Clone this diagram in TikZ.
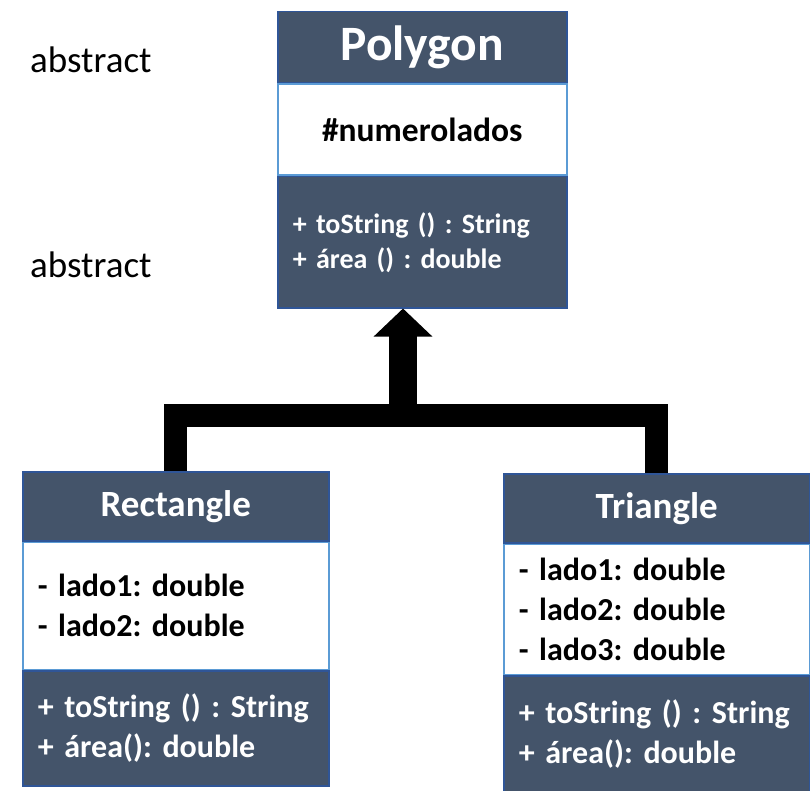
\documentclass[tikz,border=0pt]{standalone}
\usepackage{fontspec}
\setmainfont{Carlito}
\usepackage{tikz}
\usetikzlibrary{arrows.meta}
\frenchspacing
\definecolor{umldark}{HTML}{44546A}
\definecolor{umlborder}{HTML}{2F5597}
\definecolor{umllight}{HTML}{5B9BD5}
\tikzstyle{section} = [rectangle, inner ysep=0pt, inner xsep=15pt,
                       line width=1.5pt, anchor=north west]
\tikzstyle{classhead} = [section, draw=umlborder, fill=umldark,
                         text=white, font=\bfseries]
\tikzstyle{classattr} = [section, draw=umllight, fill=white,
                         text=black, font=\bfseries\fontsize{32}{40}\selectfont]
\tikzstyle{classops} = [section, draw=umlborder, fill=umldark, text=white,
                        font=\bfseries\fontsize{32}{40}\selectfont]
\tikzstyle{stereo} = [inner sep=0pt, anchor=west,
                      font=\fontsize{37}{44}\selectfont]
\tikzstyle{inherit} = [line width=23pt, line join=miter]

\begin{document}
\begin{tikzpicture}[x=1pt,y=-1pt]%
  \useasboundingbox (0,0) rectangle (810,791);
  % Polygon
  \node [classhead, minimum width=289pt, minimum height=71pt,
         font=\bfseries\fontsize{49.5}{56}\selectfont] (polyhead) at (277,11) {Polygon};
  \node [classattr, minimum width=289pt, minimum height=91pt,
         font=\bfseries\fontsize{33.5}{40}\selectfont] (polyattr) at (polyhead.south west) {\#numerolados};
  \node [classops, minimum width=289pt, minimum height=131pt, text width=259pt,
         align=left, font=\bfseries\fontsize{28}{35}\selectfont] (polyops) at (polyattr.south west)
        {+ toString () : String\\+ área () : double};
  \node [stereo] (abs1) at (30,60) {abstract};
  \node [stereo] (abs2) at (30,265) {abstract};
  % Rectangle
  \node [classhead, minimum width=306pt, minimum height=69pt,
         font=\bfseries\fontsize{37}{44}\selectfont] (recthead) at (22,471) {Rectangle};
  \node [classattr, minimum width=306pt, minimum height=127pt, text width=276pt,
         align=left] (rectattr) at (recthead.south west)
        {- lado1: double\\- lado2: double};
  \node [classops, minimum width=306pt, minimum height=115pt, text width=276pt,
         align=left] (rectops) at (rectattr.south west)
        {+ toString () : String\\+ área(): double};
  % Triangle
  \node [classhead, minimum width=306pt, minimum height=69pt,
         font=\bfseries\fontsize{37}{44}\selectfont] (trihead) at (503,473) {Triangle};
  \node [classattr, minimum width=306pt, minimum height=130pt, text width=276pt,
         align=left] (triattr) at (trihead.south west)
        {- lado1: double\\- lado2: double\\- lado3: double};
  \node [classops, minimum width=306pt, minimum height=116pt, text width=276pt,
         align=left] (triops) at (triattr.south west)
        {+ toString () : String\\+ área(): double};
  % inheritance
  \coordinate (joint) at (403,415);
  \draw [inherit] (recthead.north) |- (joint) -| (trihead.north);
  \draw [line width=28pt, -{Triangle[width=57pt,length=28pt]}]
        (joint) -- (joint |- polyops.south);
\end{tikzpicture}
\end{document}
